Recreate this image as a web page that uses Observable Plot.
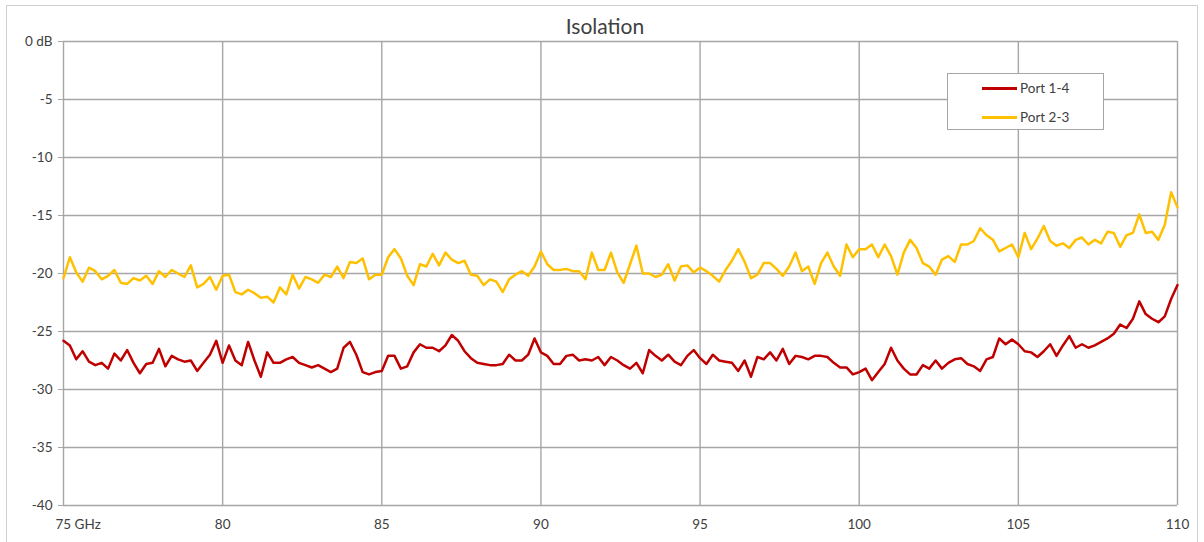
<!DOCTYPE html>
<html>
<head>
<meta charset="utf-8">
<script src="https://cdn.jsdelivr.net/npm/d3@7"></script>
<script src="https://cdn.jsdelivr.net/npm/@observablehq/plot@0.6"></script>
<style>
  body { margin: 0; background: #fff; }
  #wrap { position: relative; width: 1204px; height: 542px; overflow: hidden; font-family: Lato, "Open Sans", sans-serif; }
  #border { position: absolute; left: 6px; top: 5px; width: 1190px; height: 580px; border: 1px solid #d0d0d0; }
  #title { position: absolute; left: 0; width: 1210px; top: 13px; text-align: center; font-size: 21px; color: #404040; }
  #chart { position: absolute; left: 0; top: 0; }
  #legend { position: absolute; left: 947px; top: 73px; width: 157px; height: 57px; border: 1px solid #a6a6a6; background: #fff; box-sizing: border-box; }
  .li { position: absolute; left: 34px; height: 16px; display: flex; align-items: center; font-size: 13.5px; color: #404040; }
  .sw { width: 35px; height: 3px; margin-right: 3px; }
</style>
</head>
<body>
<div id="wrap">
  <div id="border"></div>
  <div id="chart"></div>
  <div id="title">Isolation</div>
  <div id="legend"></div>
</div>
<script>
// Frequency (GHz)
const freq = [
  75.0,75.2,75.4,75.6,75.8,76.0,76.2,76.4,76.6,76.8,
  77.0,77.2,77.4,77.6,77.8,78.0,78.2,78.4,78.6,78.8,
  79.0,79.2,79.4,79.6,79.8,80.0,80.2,80.4,80.6,80.8,
  81.0,81.2,81.4,81.6,81.8,82.0,82.2,82.4,82.6,82.8,
  83.0,83.2,83.4,83.6,83.8,84.0,84.2,84.4,84.6,84.8,
  85.0,85.2,85.4,85.6,85.8,86.0,86.2,86.4,86.6,86.8,
  87.0,87.2,87.4,87.6,87.8,88.0,88.2,88.4,88.6,88.8,
  89.0,89.2,89.4,89.6,89.8,90.0,90.2,90.4,90.6,90.8,
  91.0,91.2,91.4,91.6,91.8,92.0,92.2,92.4,92.6,92.8,
  93.0,93.2,93.4,93.6,93.8,94.0,94.2,94.4,94.6,94.8,
  95.0,95.2,95.4,95.6,95.8,96.0,96.2,96.4,96.6,96.8,
  97.0,97.2,97.4,97.6,97.8,98.0,98.2,98.4,98.6,98.8,
  99.0,99.2,99.4,99.6,99.8,100.0,100.2,100.4,100.6,100.8,
  101.0,101.2,101.4,101.6,101.8,102.0,102.2,102.4,102.6,102.8,
  103.0,103.2,103.4,103.6,103.8,104.0,104.2,104.4,104.6,104.8,
  105.0,105.2,105.4,105.6,105.8,106.0,106.2,106.4,106.6,106.8,
  107.0,107.2,107.4,107.6,107.8,108.0,108.2,108.4,108.6,108.8,
  109.0,109.2,109.4,109.6,109.8,110.0
];
// Port 1-4 isolation (dB)
const port14 = [
  -25.8,-26.2,-27.4,-26.7,-27.6,-27.9,-27.7,-28.2,-26.9,-27.5,
  -26.6,-27.7,-28.6,-27.8,-27.7,-26.5,-28.0,-27.1,-27.4,-27.6,
  -27.5,-28.4,-27.7,-27.0,-25.8,-27.7,-26.2,-27.5,-27.9,-25.9,
  -27.5,-28.9,-26.8,-27.7,-27.7,-27.4,-27.2,-27.7,-27.9,-28.1,
  -27.9,-28.2,-28.5,-28.2,-26.4,-25.9,-27.0,-28.5,-28.7,-28.5,
  -28.4,-27.1,-27.1,-28.2,-28.0,-26.8,-26.1,-26.4,-26.4,-26.7,
  -26.2,-25.3,-25.8,-26.7,-27.3,-27.7,-27.8,-27.9,-27.9,-27.8,
  -27.0,-27.5,-27.5,-27.0,-25.6,-26.8,-27.1,-27.8,-27.8,-27.1,
  -27.0,-27.5,-27.4,-27.5,-27.2,-27.9,-27.2,-27.5,-27.9,-28.2,
  -27.7,-28.6,-26.6,-27.1,-27.5,-27.0,-27.6,-27.9,-27.1,-26.6,
  -27.3,-27.8,-27.0,-27.5,-27.6,-27.7,-28.4,-27.5,-28.9,-27.2,
  -27.4,-26.8,-27.5,-26.5,-27.8,-27.1,-27.2,-27.4,-27.1,-27.1,
  -27.2,-27.7,-28.1,-28.1,-28.7,-28.5,-28.2,-29.2,-28.5,-27.8,
  -26.4,-27.5,-28.2,-28.7,-28.7,-27.9,-28.2,-27.5,-28.2,-27.7,
  -27.4,-27.3,-27.8,-28.0,-28.4,-27.4,-27.2,-25.6,-26.1,-25.7,
  -26.1,-26.7,-26.8,-27.2,-26.7,-26.1,-27.1,-26.2,-25.4,-26.4,
  -26.1,-26.4,-26.2,-25.9,-25.6,-25.2,-24.4,-24.7,-23.9,-22.4,
  -23.5,-23.9,-24.2,-23.7,-22.2,-21.0
];
// Port 2-3 isolation (dB)
const port23 = [
  -20.4,-18.6,-19.9,-20.7,-19.5,-19.8,-20.5,-20.2,-19.7,-20.8,
  -20.9,-20.4,-20.6,-20.2,-20.9,-19.8,-20.3,-19.7,-20.0,-20.3,
  -19.3,-21.2,-20.9,-20.3,-21.4,-20.2,-20.1,-21.6,-21.8,-21.4,
  -21.7,-22.1,-22.0,-22.5,-21.2,-21.8,-20.1,-21.3,-20.3,-20.5,
  -20.8,-20.1,-20.3,-19.4,-20.4,-19.0,-19.1,-18.7,-20.5,-20.1,
  -20.1,-18.6,-17.9,-18.7,-20.2,-21.0,-19.2,-19.4,-18.3,-19.3,
  -18.2,-18.8,-19.1,-18.9,-20.1,-20.2,-21.0,-20.5,-20.7,-21.6,
  -20.5,-20.1,-19.8,-20.2,-19.4,-18.1,-19.2,-19.7,-19.7,-19.6,
  -19.8,-19.8,-20.5,-18.2,-19.7,-19.7,-18.2,-19.9,-20.8,-19.2,
  -17.6,-20.0,-20.0,-20.3,-20.1,-19.2,-20.6,-19.4,-19.3,-19.9,
  -19.5,-19.8,-20.2,-20.7,-19.7,-18.9,-17.9,-19.0,-20.4,-20.1,
  -19.1,-19.1,-19.6,-20.2,-19.4,-18.2,-19.8,-19.4,-20.9,-19.1,
  -18.2,-19.4,-20.2,-17.5,-18.6,-17.9,-17.9,-17.5,-18.6,-17.5,
  -18.5,-20.1,-18.2,-17.1,-17.8,-19.1,-19.4,-20.1,-18.8,-18.5,
  -19.0,-17.5,-17.5,-17.2,-16.1,-16.7,-17.1,-18.1,-17.8,-17.5,
  -18.6,-16.5,-17.9,-17.0,-15.9,-17.2,-17.6,-17.4,-17.8,-17.1,
  -16.9,-17.5,-17.1,-17.4,-16.4,-16.5,-17.7,-16.7,-16.5,-14.9,
  -16.5,-16.4,-17.1,-15.8,-13.0,-14.3
];
const seriesNames = ["Port 1-4", "Port 2-3"];
const seriesColors = ["#C00000", "#FFC000"];
const xTicks = [75, 80, 85, 90, 95, 100, 105, 110];
const xTickLabels = ["75 GHz", "80", "85", "90", "95", "100", "105", "110"];
const yTicks = [0, -5, -10, -15, -20, -25, -30, -35, -40];
const yTickLabels = ["0 dB", "-5", "-10", "-15", "-20", "-25", "-30", "-35", "-40"];

const rows = [];
freq.forEach((f, i) => {
  rows.push({f, v: port14[i], s: seriesNames[0]});
});
freq.forEach((f, i) => {
  rows.push({f, v: port23[i], s: seriesNames[1]});
});
const xLab = xTicks.map((t, i) => ({t, label: xTickLabels[i]}));

const grid = "#a6a6a6";
const txt = "#404040";
const fs = 13.5;
const chart = Plot.plot({
  width: 1204,
  height: 542,
  marginLeft: 63,
  marginRight: 27,
  marginTop: 41,
  marginBottom: 37,
  style: {fontFamily: "Lato, 'Open Sans', sans-serif", fontSize: "14px", color: txt, background: "transparent", overflow: "visible"},
  x: {domain: [75, 110]},
  y: {domain: [-40, 0]},
  color: {domain: seriesNames, range: seriesColors},
  marks: [
    Plot.ruleY(yTicks, {stroke: grid, strokeWidth: 1.4}),
    Plot.ruleX(xTicks, {stroke: grid, strokeWidth: 1.4}),
    Plot.axisY({ticks: yTicks, tickSize: 5, tickPadding: 6, stroke: grid, tickFormat: d => yTickLabels[yTicks.indexOf(d)], fill: txt, fontSize: fs, label: null}),
    Plot.axisX({ticks: [], label: null}),
    Plot.text(xLab.slice(0, 1), {x: "t", y: () => -40, text: "label", dy: 19, dx: -8, textAnchor: "start", fill: txt, fontSize: fs}),
    Plot.text(xLab.slice(1), {x: "t", y: () => -40, text: "label", dy: 19, textAnchor: "middle", fill: txt, fontSize: fs}),
    Plot.line(rows, {x: "f", y: "v", stroke: "s", z: "s", strokeWidth: 2.5, curve: "linear", strokeLinejoin: "round"})
  ]
});
document.getElementById("chart").appendChild(chart);

const legend = document.getElementById("legend");
seriesNames.forEach((name, i) => {
  const item = document.createElement("div");
  item.className = "li";
  item.style.top = (i === 0 ? 6 : 35) + "px";
  const sw = document.createElement("div");
  sw.className = "sw";
  sw.style.background = seriesColors[i];
  const lab = document.createElement("span");
  lab.textContent = name;
  item.appendChild(sw);
  item.appendChild(lab);
  legend.appendChild(item);
});
</script>
</body>
</html>
